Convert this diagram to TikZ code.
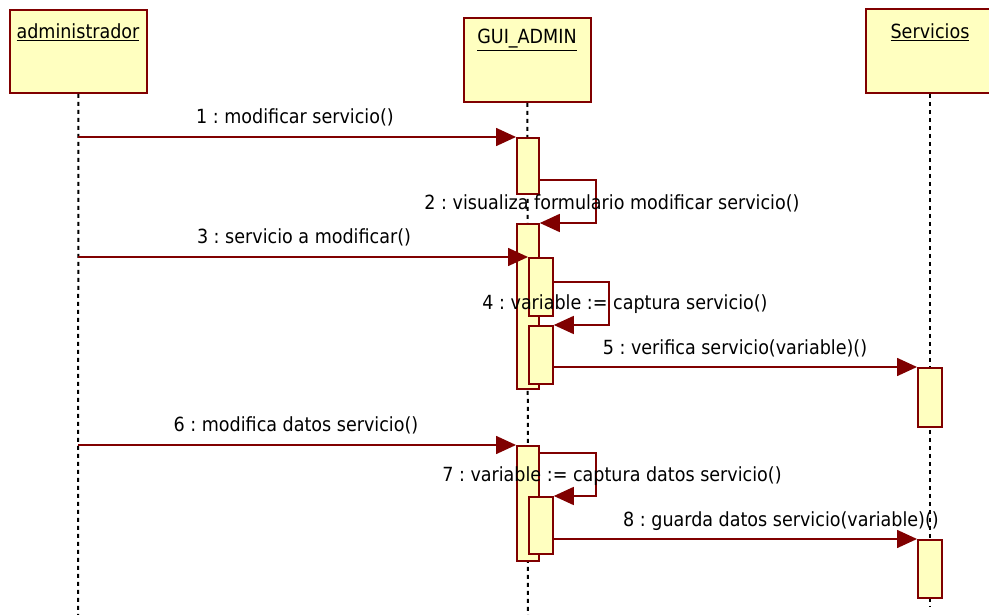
\documentclass[tikz,border=0pt]{standalone}
\usepackage{fontspec}
\IfFontExistsTF{DejaVu Sans Condensed}{\setmainfont{DejaVu Sans Condensed}}{\setmainfont{DejaVu Sans}[FakeStretch=0.9]}
\usetikzlibrary{arrows.meta}
\definecolor{umlred}{RGB}{128,0,0}
\definecolor{umlfill}{RGB}{255,255,192}
\frenchspacing
\begin{document}
\begin{tikzpicture}[x=1pt,y=-1pt,
  objbox/.style={draw=umlred, fill=umlfill, line width=1.8pt, inner sep=0pt, anchor=north west},
  actbox/.style={draw=umlred, fill=umlfill, line width=1.8pt, inner sep=0pt, anchor=north west, minimum width=22pt},
  objname/.style={font=\fontsize{19.5}{22}\selectfont, inner sep=0pt},
  msglabel/.style={font=\fontsize{19.5}{22}\selectfont, inner sep=0pt, text=black},
  lifeline/.style={draw=black, line width=2pt, dash pattern=on 4pt off 4pt},
  msg/.style={draw=umlred, line width=1.6pt, -{Triangle[length=20pt,width=18pt]}}]
\useasboundingbox (0,0) rectangle (989,615);
\clip (0,0) rectangle (989,615);
\fill[white] (0,0) rectangle (989,615);

% objects
\node[objbox, minimum width=137pt, minimum height=83pt] (admin) at (9,9) {};
\node[objbox, minimum width=127pt, minimum height=84pt] (gui) at (463,17) {};
\node[objbox, minimum width=140pt, minimum height=84pt] (serv) at (865,8) {};
\node[objname] (adminname) at (78,32) {\underline{administrador}};
\node[objname] (guiname) at (527,40) {\underline{GUI\_ADMIN}};
\node[objname] (servname) at (930,32) {\underline{Servicios}};

% lifeline ends
\coordinate (adminend) at (78,615);
\coordinate (guiend) at (528,615);
\coordinate (servend) at (930,606);
\draw[lifeline] (admin.south) -- (adminend);
\draw[lifeline] (gui.south) -- (guiend);
\draw[lifeline] (serv.south -| servend) -- (servend);

% activations
\node[actbox, minimum height=56pt] (a1) at (516,137) {};
\node[actbox, minimum height=165pt] (a2) at (516,223) {};
\node[actbox, minimum width=24pt, minimum height=58pt] (a3) at (528,257) {};
\node[actbox, minimum width=24pt, minimum height=58pt] (a4) at (528,325) {};
\node[actbox, minimum width=24pt, minimum height=59pt] (s1) at (917,367) {};
\node[actbox, minimum height=115pt] (a6) at (516,445) {};
\node[actbox, minimum width=24pt, minimum height=57pt] (a7) at (528,496) {};
\node[actbox, minimum width=24pt, minimum height=58pt] (s2) at (917,539) {};

% message start points
\coordinate (m1) at (78,137);
\coordinate (m2) at (538,180);
\coordinate (m3) at (78,257);
\coordinate (m4) at (552,282);
\coordinate (m6) at (78,445);
\coordinate (m7) at (538,453);

% messages
\draw[msg] (m1) -- (a1.north west);
\draw[msg] (m2) -- ++(58,0) |- (a2.north east);
\draw[msg] (m3) -- (a3.north west);
\draw[msg] (m4) -- ++(57,0) |- (a4.north east);
\draw[msg] (a4.east |- s1.north west) -- (s1.north west);
\draw[msg] (m6) -- (a6.north west);
\draw[msg] (m7) -- ++(58,0) |- (a7.north east);
\draw[msg] (a7.east |- s2.north west) -- (s2.north west);

% labels
\node[msglabel] (l1) at (295,117) {1 : modificar servicio()};
\node[msglabel] (l2) at (612,203) {2 : visualiza formulario modificar servicio()};
\node[msglabel] (l3) at (304,237) {3 : servicio a modificar()};
\node[msglabel] (l4) at (625,304) {4 : variable := captura servicio()};
\node[msglabel] (l5) at (735,348) {5 : verifica servicio(variable)()};
\node[msglabel] (l6) at (296,425) {6 : modifica datos servicio()};
\node[msglabel] (l7) at (612,476) {7 : variable := captura datos servicio()};
\node[msglabel] (l8) at (781,521) {8 : guarda datos servicio(variable)()};
\end{tikzpicture}
\end{document}
